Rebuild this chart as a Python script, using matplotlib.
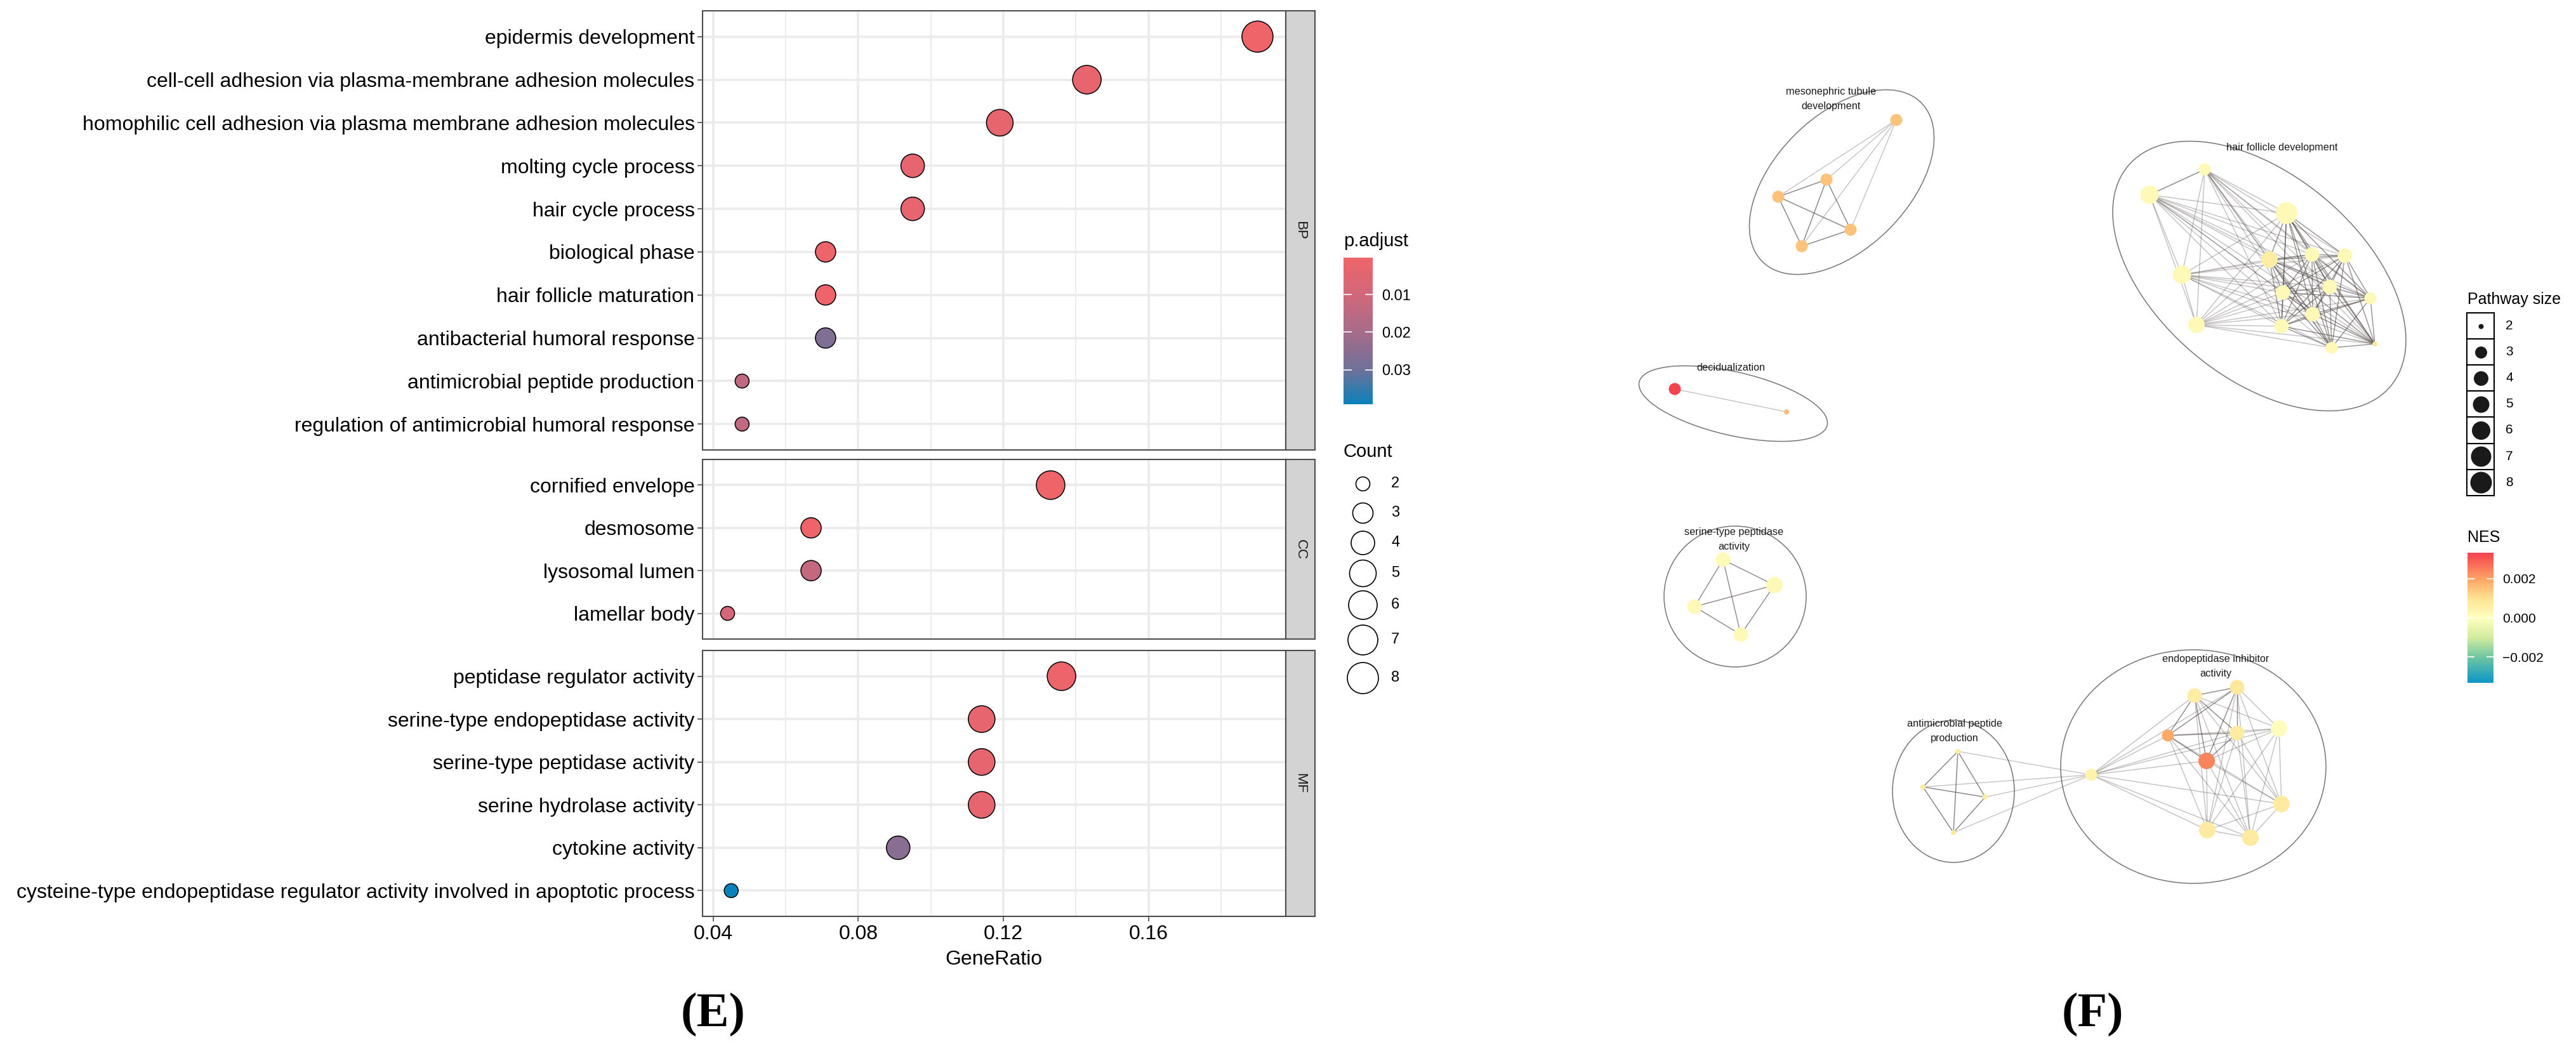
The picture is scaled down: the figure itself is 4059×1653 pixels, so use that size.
import matplotlib
matplotlib.use("Agg")
import matplotlib.pyplot as plt
import matplotlib.cm as cm
import numpy as np
from matplotlib.colors import LinearSegmentedColormap, Normalize
from matplotlib.patches import Ellipse, Rectangle
from matplotlib.collections import LineCollection

plt.rcParams['font.family'] = ['Liberation Sans', 'DejaVu Sans']

# ---------------- (E) GO enrichment dot plot ----------------
bp_terms = ["epidermis development",
            "cell-cell adhesion via plasma-membrane adhesion molecules",
            "homophilic cell adhesion via plasma membrane adhesion molecules",
            "molting cycle process",
            "hair cycle process",
            "biological phase",
            "hair follicle maturation",
            "antibacterial humoral response",
            "antimicrobial peptide production",
            "regulation of antimicrobial humoral response"]
bp_ratio = [0.190, 0.143, 0.119, 0.095, 0.095, 0.071, 0.071, 0.071, 0.048, 0.048]
bp_count = [8, 6, 5, 4, 4, 3, 3, 3, 2, 2]
bp_padj = [0.0002, 0.0026, 0.0028, 0.0033, 0.0033, 0.0003, 0.0003, 0.027, 0.014, 0.014]

cc_terms = ["cornified envelope", "desmosome", "lysosomal lumen", "lamellar body"]
cc_ratio = [0.133, 0.067, 0.067, 0.044]
cc_count = [6, 3, 3, 2]
cc_padj = [0.0004, 0.0005, 0.013, 0.009]

mf_terms = ["peptidase regulator activity",
            "serine-type endopeptidase activity",
            "serine-type peptidase activity",
            "serine hydrolase activity",
            "cytokine activity",
            "cysteine-type endopeptidase regulator activity involved in apoptotic process"]
mf_ratio = [0.136, 0.114, 0.114, 0.114, 0.091, 0.045]
mf_count = [6, 5, 5, 5, 4, 2]
mf_padj = [0.001, 0.003, 0.003, 0.003, 0.025, 0.0392]

padj_ticks = [0.01, 0.02, 0.03]
count_levels = [2, 3, 4, 5, 6, 7, 8]

# ---------------- (F) enrichment map ----------------
# layout coordinates of the nodes
node_x = [2988, 2878, 2802, 2916, 2839,
          2639, 2815,
          2715, 2796, 2670, 2743,
          3474, 3387, 3603, 3576, 3643, 3695, 3438, 3597, 3671, 3735, 3644, 3461, 3595, 3674, 3742,
          3085, 3030, 3128, 3078,
          3295, 3458, 3525, 3591, 3416, 3525, 3477, 3595, 3478, 3546]
node_y = [189, 283, 310, 362, 388,
          613, 649,
          882, 922, 956, 1000,
          267, 307, 336, 409, 401, 403, 433, 461, 452, 470, 495, 512, 514, 548, 542,
          1184, 1240, 1256, 1312,
          1221, 1096, 1083, 1148, 1159, 1155, 1199, 1267, 1308, 1320]
node_size = [3, 3, 3, 3, 3,
             3, 2,
             4, 5, 4, 4,
             3, 6, 8, 5, 4, 4, 6, 4, 4, 3, 4, 5, 4, 3, 2,
             2, 2, 2, 2,
             3, 4, 4, 5, 3, 4, 5, 5, 5, 5]
node_nes = [0.0015, 0.0015, 0.0015, 0.0015, 0.0015,
            0.0033, 0.0016,
            0.0002, 0.0002, 0.0002, 0.0002,
            0.0002, 0.0002, 0.0002, 0.0006, 0.0002, 0.0002, 0.0002, 0.0002, 0.0002, 0.0002,
            0.0002, 0.0002, 0.0002, 0.0002, 0.0008,
            0.0007, 0.0007, 0.0007, 0.0007,
            0.0004, 0.0006, 0.0008, 0.0001, 0.0019, 0.0007, 0.0024, 0.0007, 0.0007, 0.0007]

# groups of fully linked gene sets with their similarity level
edge_groups = [([0, 1, 2, 3, 4], 0.4),
               ([1, 2, 3, 4], 0.85),
               ([5, 6], 0.4),
               ([7, 8, 9, 10], 0.8),
               (list(range(11, 26)), 0.42),
               ([11, 12], 0.85),
               ([13, 14, 15, 16, 18, 19, 20, 21, 23, 24, 25], 0.75),
               ([26, 27, 28, 29, 30], 0.4),
               ([26, 27, 28, 29], 0.85),
               (list(range(30, 40)), 0.42),
               ([31, 32, 34, 35, 36], 0.8)]

cluster_names = ["mesonephric tubule\ndevelopment", "decidualization",
                 "serine-type peptidase\nactivity", "hair follicle development",
                 "antimicrobial peptide\nproduction", "endopeptidase inhibitor\nactivity"]
cluster_cx = [2902, 2731, 2734, 3560, 3078, 3456]
cluster_cy = [287, 636, 940, 435, 1247, 1208]
cluster_w = [354, 304, 224, 540, 192, 418]
cluster_h = [210, 100, 222, 320, 224, 368]
cluster_angle = [-45, 13, 0, 40, 0, 0]
label_x = [2885, 2727, 2732, 3596, 3080, 3491]
label_y = [156, 580, 850, 233, 1152, 1050]

nes_ticks = [0.002, 0.000, -0.002]
nes_tick_labels = ["0.002", "0.000", "\u22120.002"]
size_levels = [2, 3, 4, 5, 6, 7, 8]

# ---------------- figure ----------------
W, H = 4059, 1653
fig = plt.figure(figsize=(W / 100, H / 100), dpi=100)


def rect(x0, y0, x1, y1):
    return [x0 / W, 1 - y1 / H, (x1 - x0) / W, (y1 - y0) / H]


PT = 0.72  # points per pixel at 100 dpi
count_diam = {2: 22, 3: 32, 4: 37, 5: 42, 6: 45, 7: 47, 8: 49}
path_diam = {2: 8, 3: 19, 4: 23, 5: 26, 6: 29, 7: 32, 8: 34}

padj_cmap = LinearSegmentedColormap.from_list(
    "padj", [(0, "#EF6469"), (0.255, "#D1677A"), (0.51, "#A56C8A"),
             (0.765, "#6F7199"), (1, "#0A82BA")])
all_padj = bp_padj + cc_padj + mf_padj
padj_norm = Normalize(min(all_padj), max(all_padj))

panels = [(bp_terms, bp_ratio, bp_count, bp_padj, "BP", 17, 709),
          (cc_terms, cc_ratio, cc_count, cc_padj, "CC", 724, 1007),
          (mf_terms, mf_ratio, mf_count, mf_padj, "MF", 1025, 1444)]

for i, (terms, ratio, count, padj, lab, y0, y1) in enumerate(panels):
    ax = fig.add_axes(rect(1107, y0, 2026, y1))
    n = len(terms)
    yy = np.arange(n)
    ax.set_xlim(0.0371, 0.1978)
    ax.set_ylim(n - 0.4, -0.6)
    ax.set_yticks(yy)
    ax.set_yticklabels(terms)
    ax.set_xticks([0.04, 0.08, 0.12, 0.16])
    ax.set_xticklabels(["0.04", "0.08", "0.12", "0.16"])
    ax.set_xticks([0.06, 0.10, 0.14, 0.18], minor=True)
    ax.grid(which="major", color="#EBEBEB", lw=2.6)
    ax.grid(which="minor", axis="x", color="#EBEBEB", lw=1.4)
    ax.set_axisbelow(True)
    ax.scatter(ratio, yy, s=[(count_diam[c] * PT) ** 2 for c in count],
               c=padj, cmap=padj_cmap, norm=padj_norm,
               edgecolors="black", linewidths=1.1, zorder=3)
    for sp in ax.spines.values():
        sp.set_color("#4D4D4D")
        sp.set_linewidth(1.5)
    ax.tick_params(axis="both", which="major", length=6, width=1.2, color="#4D4D4D",
                   labelsize=23, pad=3, labelcolor="black")
    ax.tick_params(which="minor", length=0)
    if i < 2:
        ax.tick_params(axis="x", labelbottom=False, length=0)

    sax = fig.add_axes(rect(2026, y0, 2072, y1))
    sax.set_facecolor("#D3D3D3")
    sax.set_xticks([])
    sax.set_yticks([])
    for sp in sax.spines.values():
        sp.set_color("#4D4D4D")
        sp.set_linewidth(1.5)
    sax.text(0.5, 0.5, lab, rotation=-90, ha="center", va="center",
             fontsize=16, color="#1A1A1A", transform=sax.transAxes)

fig.text(1566 / W, 1 - 1512 / H, "GeneRatio", fontsize=23, ha="center", va="center")

# p.adjust colour bar
fig.text(2117 / W, 1 - 380 / H, "p.adjust", fontsize=21, ha="left", va="center")
cax = fig.add_axes(rect(2117, 406, 2163, 637))
cb = fig.colorbar(cm.ScalarMappable(norm=padj_norm, cmap=padj_cmap), cax=cax)
cax.invert_yaxis()
cb.set_ticks(padj_ticks)
cb.set_ticklabels(["%.2f" % t for t in padj_ticks])
cb.outline.set_visible(False)
cb.minorticks_off()
cax.tick_params(axis="y", direction="in", left=True, right=True, length=9, width=1.2,
                color="white", labelsize=17, pad=10)

# overlay axes in pixel units for legends
lax = fig.add_axes([0, 0, 1, 1])
lax.set_xlim(0, W)
lax.set_ylim(H, 0)
lax.axis("off")
lax.patch.set_alpha(0)

fig.text(2117 / W, 1 - 712 / H, "Count", fontsize=21, ha="left", va="center")
count_key_y = [762, 808, 855, 903, 953, 1008, 1068]
for lv, ky in zip(count_levels, count_key_y):
    lax.scatter([2147], [ky], s=(count_diam[lv] * PT) ** 2, facecolors="white",
                edgecolors="black", linewidths=1.2)
    lax.text(2192, ky, str(lv), fontsize=17, ha="left", va="center")

# ---------------- (F) network ----------------
nax = fig.add_axes(rect(2500, 0, W, H))
nax.set_xlim(2500, W)
nax.set_ylim(H, 0)
nax.axis("off")
nax.patch.set_alpha(0)

nes_cmap = LinearSegmentedColormap.from_list(
    "nes", [(0, "#0A96C8"), (0.2, "#72C7A0"), (0.35, "#D3EC9F"), (0.5, "#FFFFC0"),
            (0.65, "#FEE291"), (0.8, "#FDA463"), (1, "#F5414F")])
nes_norm = Normalize(-0.00333, 0.00333)

for k in range(len(cluster_names)):
    nax.add_patch(Ellipse((cluster_cx[k], cluster_cy[k]), cluster_w[k], cluster_h[k],
                          angle=cluster_angle[k], fill=False, edgecolor="#7A7474", lw=1.1))

edge_w = {}
for members, w in edge_groups:
    for a_i in range(len(members)):
        for b_i in range(a_i + 1, len(members)):
            key = (members[a_i], members[b_i])
            edge_w[key] = max(edge_w.get(key, 0), w)

segs = [[(node_x[a], node_y[a]), (node_x[b], node_y[b])] for (a, b) in edge_w]
cols = [(0.33, 0.29, 0.29, w * 0.8) for w in edge_w.values()]
nax.add_collection(LineCollection(segs, colors=cols, linewidths=1.05, zorder=2))

nax.scatter(node_x, node_y, s=[(path_diam[v] * PT) ** 2 for v in node_size],
            c=node_nes, cmap=nes_cmap, norm=nes_norm, linewidths=0, zorder=3)

for k, name in enumerate(cluster_names):
    nax.text(label_x[k], label_y[k], name, fontsize=11.7, ha="center", va="center",
             linespacing=1.6, color="#1A1A1A", zorder=4)

# Pathway size legend
fig.text(3888 / W, 1 - 472 / H, "Pathway size", fontsize=18, ha="left", va="center")
box_h = 41.1
for i, lv in enumerate(size_levels):
    top = 493 + box_h * i
    lax.add_patch(Rectangle((3887, top), 43, box_h, facecolor="white",
                            edgecolor="black", lw=1.5))
    lax.scatter([3908.5], [top + box_h / 2], s=(path_diam[lv] * PT) ** 2,
                color="#1A1A1A", linewidths=0, zorder=3)
    lax.text(3948, top + box_h / 2, str(lv), fontsize=15, ha="left", va="center")

# NES colour bar
fig.text(3888 / W, 1 - 847 / H, "NES", fontsize=18, ha="left", va="center")
nax2 = fig.add_axes(rect(3888, 871, 3929, 1076))
cb2 = fig.colorbar(cm.ScalarMappable(norm=nes_norm, cmap=nes_cmap), cax=nax2)
cb2.set_ticks(nes_ticks)
cb2.set_ticklabels(nes_tick_labels)
cb2.outline.set_visible(False)
cb2.minorticks_off()
nax2.tick_params(axis="y", direction="in", left=True, right=True, length=8, width=1.2,
                 color="white", labelsize=15, pad=10)

# panel tags
fig.text(1124 / W, 1 - 1598 / H, "(E)", fontsize=55, ha="center", va="center",
         family="Liberation Serif", weight="bold")
fig.text(3297 / W, 1 - 1598 / H, "(F)", fontsize=55, ha="center", va="center",
         family="Liberation Serif", weight="bold")

fig.savefig("out.png", dpi=100, facecolor="white")
